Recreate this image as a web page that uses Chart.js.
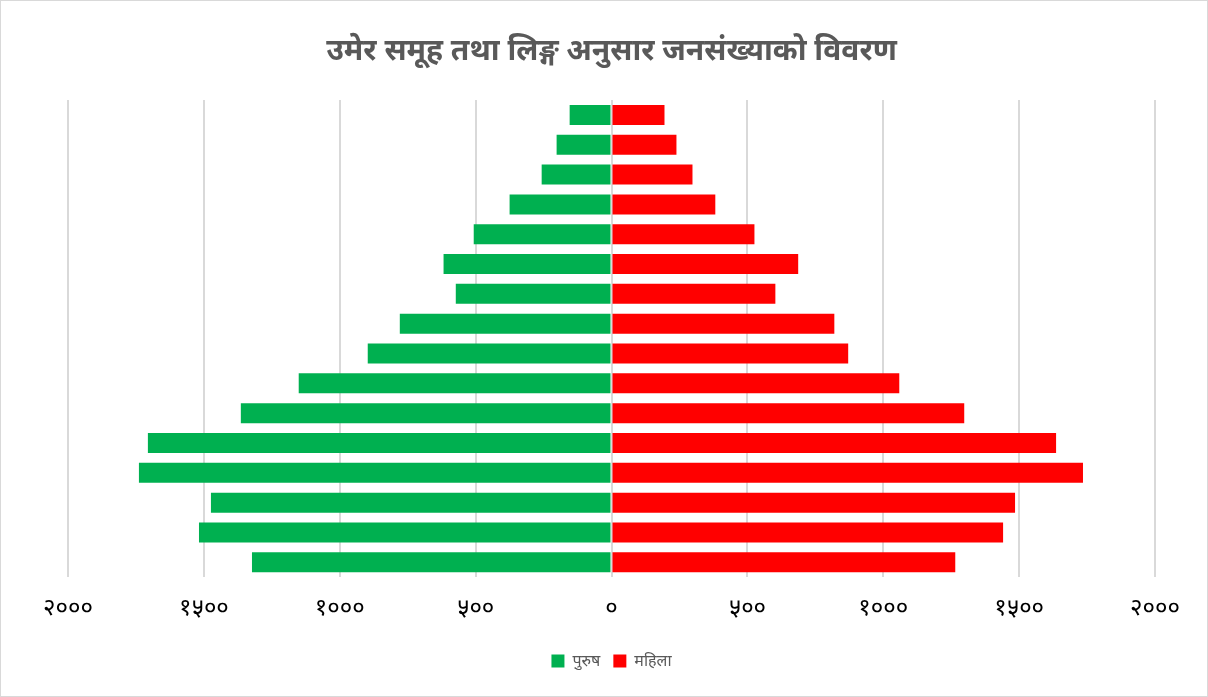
<!DOCTYPE html>
<html lang="ne">
<head>
    <meta charset="UTF-8">
    <title>उमेर समूह तथा लिङ्ग अनुसार जनसंख्याको विवरण</title>
    <script src="https://cdn.jsdelivr.net/npm/chart.js"></script>
    <style>
        html, body {
            margin: 0;
            padding: 0;
            background: #fff;
        }
        #wrap {
            position: relative;
            width: 1208px;
            height: 697px;
            box-sizing: border-box;
            border: 1px solid #d9d9d9;
        }
    </style>
</head>
<body>
    <div id="wrap">
        <canvas id="pyramid" width="1206" height="695"></canvas>
    </div>

    <script>
        // age groups, top row first (oldest at top)
        const ageGroups = ['७५+', '७०-७४', '६५-६९', '६०-६४', '५५-५९', '५०-५४', '४५-४९', '४०-४४',
                           '३५-३९', '३०-३४', '२५-२९', '२०-२४', '१५-१९', '१०-१४', '५-९', '०-४'];
        const male   = [154, 202, 257, 375, 507, 618, 573, 779, 897, 1151, 1364, 1706, 1739, 1474, 1518, 1323];
        const female = [195, 239, 298, 382, 526, 687, 603, 820, 871, 1059, 1298, 1636, 1735, 1485, 1441, 1265];
        const xTicks = [-2000, -1500, -1000, -500, 0, 500, 1000, 1500, 2000];

        const devDigits = '०१२३४५६७८९';
        function toDevanagari(n) {
            return String(Math.abs(n)).replace(/[0-9]/g, d => devDigits[d]);
        }

        const ctx = document.getElementById('pyramid').getContext('2d');
        new Chart(ctx, {
            type: 'bar',
            data: {
                labels: ageGroups,
                datasets: [
                    {
                        label: 'पुरुष',
                        data: male.map(v => -v),
                        backgroundColor: '#00B050',
                        barPercentage: 0.67,
                        categoryPercentage: 1
                    },
                    {
                        label: 'महिला',
                        data: female,
                        backgroundColor: '#FF0000',
                        barPercentage: 0.67,
                        categoryPercentage: 1
                    }
                ]
            },
            options: {
                indexAxis: 'y',
                responsive: false,
                animation: false,
                layout: { padding: { left: 67, right: 52, top: 0, bottom: 17 } },
                plugins: {
                    title: {
                        display: true,
                        text: 'उमेर समूह तथा लिङ्ग अनुसार जनसंख्याको विवरण',
                        color: '#595959',
                        font: { size: 30, weight: 'bold', family: "'Noto Sans', sans-serif" },
                        padding: { top: 32, bottom: 31 }
                    },
                    legend: {
                        position: 'bottom',
                        labels: {
                            color: '#595959',
                            boxWidth: 13,
                            boxHeight: 13,
                            font: { size: 16, family: "'Noto Sans', sans-serif" },
                            padding: 13
                        }
                    },
                    tooltip: { enabled: false }
                },
                scales: {
                    x: {
                        stacked: true,
                        min: -2000,
                        max: 2000,
                        afterBuildTicks: axis => { axis.ticks = xTicks.map(v => ({ value: v })); },
                        ticks: {
                            color: '#000',
                            font: { size: 24, family: "'Noto Sans', sans-serif" },
                            padding: 17,
                            maxRotation: 0,
                            callback: v => toDevanagari(v)
                        },
                        grid: { color: '#d9d9d9', lineWidth: 2, drawTicks: false },
                        border: { display: false }
                    },
                    y: {
                        stacked: true,
                        display: false
                    }
                }
            }
        });
    </script>
</body>
</html>
